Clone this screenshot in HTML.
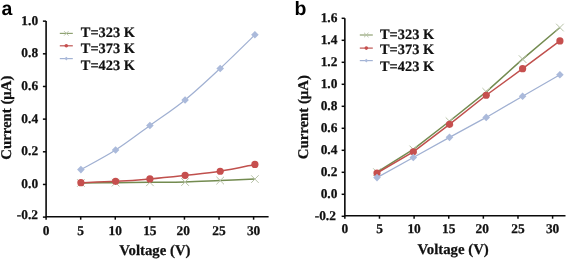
<!DOCTYPE html>
<html><head><meta charset="utf-8"><style>
html,body{margin:0;padding:0;background:#fff;}
body{width:567px;height:260px;overflow:hidden;}
svg{display:block;will-change:transform;text-rendering:geometricPrecision;filter:blur(0.3px);}
.tl{font-family:"Liberation Serif", serif;font-weight:bold;font-size:13.4px;fill:#111;stroke:#111;stroke-width:0.25px;}
.tt{font-family:"Liberation Serif", serif;font-weight:bold;font-size:14.8px;fill:#111;stroke:#111;stroke-width:0.25px;}
.lg{font-family:"Liberation Serif", serif;font-weight:bold;font-size:14.4px;fill:#111;stroke:#111;stroke-width:0.2px;}
.pl{font-family:"Liberation Sans", sans-serif;font-weight:bold;font-size:19.5px;fill:#000;}
</style></head><body>
<svg width="567" height="260" viewBox="0 0 567 260">
<rect width="567" height="260" fill="#fff"/>
<path d="M46.1,21 L46.1,216.7 L268.6,216.7" stroke="#0a0a0a" stroke-width="1.6" fill="none"/>
<path d="M42.9,21.15 L46.1,21.15" stroke="#0a0a0a" stroke-width="1.5"/>
<text x="38.1" y="24.55" text-anchor="end" class="tl">1.0</text>
<path d="M42.9,53.81 L46.1,53.81" stroke="#0a0a0a" stroke-width="1.5"/>
<text x="38.1" y="57.21" text-anchor="end" class="tl">0.8</text>
<path d="M42.9,86.47 L46.1,86.47" stroke="#0a0a0a" stroke-width="1.5"/>
<text x="38.1" y="89.87" text-anchor="end" class="tl">0.6</text>
<path d="M42.9,119.13 L46.1,119.13" stroke="#0a0a0a" stroke-width="1.5"/>
<text x="38.1" y="122.53" text-anchor="end" class="tl">0.4</text>
<path d="M42.9,151.79 L46.1,151.79" stroke="#0a0a0a" stroke-width="1.5"/>
<text x="38.1" y="155.19" text-anchor="end" class="tl">0.2</text>
<path d="M42.9,184.45 L46.1,184.45" stroke="#0a0a0a" stroke-width="1.5"/>
<text x="38.1" y="187.85" text-anchor="end" class="tl">0.0</text>
<path d="M42.9,217.11 L46.1,217.11" stroke="#0a0a0a" stroke-width="1.5"/>
<text x="38" y="219.11" text-anchor="end" class="tl">-0.2</text>
<path d="M46.1,216.7 L46.1,219.7" stroke="#0a0a0a" stroke-width="1.5"/>
<text x="46.1" y="234.5" text-anchor="middle" class="tl">0</text>
<path d="M80.69,216.7 L80.69,219.7" stroke="#0a0a0a" stroke-width="1.5"/>
<text x="80.69" y="234.5" text-anchor="middle" class="tl">5</text>
<path d="M115.27,216.7 L115.27,219.7" stroke="#0a0a0a" stroke-width="1.5"/>
<text x="115.27" y="234.5" text-anchor="middle" class="tl">10</text>
<path d="M149.85,216.7 L149.85,219.7" stroke="#0a0a0a" stroke-width="1.5"/>
<text x="149.85" y="234.5" text-anchor="middle" class="tl">15</text>
<path d="M184.44,216.7 L184.44,219.7" stroke="#0a0a0a" stroke-width="1.5"/>
<text x="183.24" y="234.5" text-anchor="middle" class="tl">20</text>
<path d="M219.02,216.7 L219.02,219.7" stroke="#0a0a0a" stroke-width="1.5"/>
<text x="219.02" y="234.5" text-anchor="middle" class="tl">25</text>
<path d="M253.61,216.7 L253.61,219.7" stroke="#0a0a0a" stroke-width="1.5"/>
<text x="253.61" y="234.5" text-anchor="middle" class="tl">30</text>
<text x="154.85" y="255.2" text-anchor="middle" class="tt">Voltage (V)</text>
<text transform="translate(10.6,117.7) rotate(-90)" text-anchor="middle" class="tt">Current (&#956;A)</text>
<text x="1.5" y="15" class="pl">a</text>
<path d="M80.9,182.99 C86.68,182.94 104.1,182.78 115.6,182.67 C127.1,182.56 138.32,182.45 149.9,182.34 C161.48,182.23 173.38,182.31 185.1,182.02 C196.82,181.72 208.57,181.04 220.2,180.55 C231.83,180.06 249.12,179.32 254.9,179.08" stroke="#738b50" stroke-width="1.5" fill="none" stroke-linejoin="round"/>
<path d="M77.1,179.19 L84.7,186.79 M77.1,186.79 L84.7,179.19" stroke="#b8c3a8" stroke-width="1" fill="none"/>
<path d="M111.8,178.87 L119.4,186.47 M111.8,186.47 L119.4,178.87" stroke="#b8c3a8" stroke-width="1" fill="none"/>
<path d="M146.1,178.54 L153.7,186.14 M146.1,186.14 L153.7,178.54" stroke="#b8c3a8" stroke-width="1" fill="none"/>
<path d="M181.3,178.22 L188.9,185.82 M181.3,185.82 L188.9,178.22" stroke="#b8c3a8" stroke-width="1" fill="none"/>
<path d="M216.4,176.75 L224,184.35 M216.4,184.35 L224,176.75" stroke="#b8c3a8" stroke-width="1" fill="none"/>
<path d="M251.1,175.28 L258.7,182.88 M251.1,182.88 L258.7,175.28" stroke="#b8c3a8" stroke-width="1" fill="none"/>
<path d="M80.9,182.67 C86.68,182.45 104.1,181.99 115.6,181.36 C127.1,180.74 138.32,179.92 149.9,178.91 C161.48,177.91 173.38,176.6 185.1,175.32 C196.82,174.05 208.57,173.07 220.2,171.24 C231.83,169.42 249.12,165.53 254.9,164.39" stroke="#c0504d" stroke-width="1.5" fill="none" stroke-linejoin="round"/>
<circle cx="80.9" cy="182.67" r="3.6" fill="#c64f4e"/>
<circle cx="115.6" cy="181.36" r="3.6" fill="#c64f4e"/>
<circle cx="149.9" cy="178.91" r="3.6" fill="#c64f4e"/>
<circle cx="185.1" cy="175.32" r="3.6" fill="#c64f4e"/>
<circle cx="220.2" cy="171.24" r="3.6" fill="#c64f4e"/>
<circle cx="254.9" cy="164.39" r="3.6" fill="#c64f4e"/>
<path d="M80.9,169.61 C86.68,166.35 104.1,157.37 115.6,150.03 C127.1,142.68 138.32,133.9 149.9,125.55 C161.48,117.2 173.38,109.45 185.1,99.93 C196.82,90.41 208.57,79.28 220.2,68.43 C231.83,57.58 249.12,40.41 254.9,34.81" stroke="#a0b0d2" stroke-width="1.2" fill="none" stroke-linejoin="round"/>
<path d="M80.9,165.81 L84.7,169.61 L80.9,173.41 L77.1,169.61 Z" fill="#abbadb"/>
<path d="M115.6,146.23 L119.4,150.03 L115.6,153.83 L111.8,150.03 Z" fill="#abbadb"/>
<path d="M149.9,121.75 L153.7,125.55 L149.9,129.35 L146.1,125.55 Z" fill="#abbadb"/>
<path d="M185.1,96.13 L188.9,99.93 L185.1,103.73 L181.3,99.93 Z" fill="#abbadb"/>
<path d="M220.2,64.63 L224,68.43 L220.2,72.23 L216.4,68.43 Z" fill="#abbadb"/>
<path d="M254.9,31.01 L258.7,34.81 L254.9,38.61 L251.1,34.81 Z" fill="#abbadb"/>
<path d="M59.8,33.4 L72.8,33.4" stroke="#8fa272" stroke-width="1.2"/>
<path d="M64.1,31.2 L68.5,35.6 M64.1,35.6 L68.5,31.2" stroke="#b8c3a8" stroke-width="1" fill="none"/>
<text x="80.8" y="36.9" class="lg">T=323 K</text>
<path d="M59.8,45.8 L72.8,45.8" stroke="#bf5552" stroke-width="1.2"/>
<circle cx="66.3" cy="45.8" r="1.8" fill="#c64f4e"/>
<text x="80.8" y="53.2" class="lg">T=373 K</text>
<path d="M59.8,58.6 L72.8,58.6" stroke="#a3b3d4" stroke-width="1.2"/>
<path d="M66.3,56.8 L68.1,58.6 L66.3,60.4 L64.5,58.6 Z" fill="#abbadb"/>
<text x="80.8" y="69.5" class="lg">T=423 K</text>
<path d="M344.85,18.3 L344.85,215.7 L565.5,215.7" stroke="#0a0a0a" stroke-width="1.6" fill="none"/>
<path d="M341.65,18.3 L344.85,18.3" stroke="#0a0a0a" stroke-width="1.5"/>
<text x="337.4" y="22" text-anchor="end" class="tl">1.6</text>
<path d="M341.65,40.3 L344.85,40.3" stroke="#0a0a0a" stroke-width="1.5"/>
<text x="337.4" y="44" text-anchor="end" class="tl">1.4</text>
<path d="M341.65,62.3 L344.85,62.3" stroke="#0a0a0a" stroke-width="1.5"/>
<text x="337.4" y="66" text-anchor="end" class="tl">1.2</text>
<path d="M341.65,84.3 L344.85,84.3" stroke="#0a0a0a" stroke-width="1.5"/>
<text x="337.4" y="88" text-anchor="end" class="tl">1.0</text>
<path d="M341.65,106.3 L344.85,106.3" stroke="#0a0a0a" stroke-width="1.5"/>
<text x="337.4" y="110" text-anchor="end" class="tl">0.8</text>
<path d="M341.65,128.3 L344.85,128.3" stroke="#0a0a0a" stroke-width="1.5"/>
<text x="337.4" y="132" text-anchor="end" class="tl">0.6</text>
<path d="M341.65,150.3 L344.85,150.3" stroke="#0a0a0a" stroke-width="1.5"/>
<text x="337.4" y="154" text-anchor="end" class="tl">0.4</text>
<path d="M341.65,172.3 L344.85,172.3" stroke="#0a0a0a" stroke-width="1.5"/>
<text x="337.4" y="176" text-anchor="end" class="tl">0.2</text>
<path d="M341.65,194.3 L344.85,194.3" stroke="#0a0a0a" stroke-width="1.5"/>
<text x="337.4" y="198" text-anchor="end" class="tl">0.0</text>
<path d="M341.65,216.3 L344.85,216.3" stroke="#0a0a0a" stroke-width="1.5"/>
<text x="335.9" y="219.5" text-anchor="end" class="tl">-0.2</text>
<path d="M344.85,215.7 L344.85,218.7" stroke="#0a0a0a" stroke-width="1.5"/>
<text x="344.85" y="232.7" text-anchor="middle" class="tl">0</text>
<path d="M379.48,215.7 L379.48,218.7" stroke="#0a0a0a" stroke-width="1.5"/>
<text x="379.48" y="232.7" text-anchor="middle" class="tl">5</text>
<path d="M414.1,215.7 L414.1,218.7" stroke="#0a0a0a" stroke-width="1.5"/>
<text x="414.1" y="232.7" text-anchor="middle" class="tl">10</text>
<path d="M448.73,215.7 L448.73,218.7" stroke="#0a0a0a" stroke-width="1.5"/>
<text x="448.73" y="232.7" text-anchor="middle" class="tl">15</text>
<path d="M483.35,215.7 L483.35,218.7" stroke="#0a0a0a" stroke-width="1.5"/>
<text x="482.15" y="232.7" text-anchor="middle" class="tl">20</text>
<path d="M517.98,215.7 L517.98,218.7" stroke="#0a0a0a" stroke-width="1.5"/>
<text x="517.98" y="232.7" text-anchor="middle" class="tl">25</text>
<path d="M552.6,215.7 L552.6,218.7" stroke="#0a0a0a" stroke-width="1.5"/>
<text x="552.6" y="232.7" text-anchor="middle" class="tl">30</text>
<text x="453.1" y="253.8" text-anchor="middle" class="tt">Voltage (V)</text>
<text transform="translate(308,117.2) rotate(-90)" text-anchor="middle" class="tt">Current (&#956;A)</text>
<text x="294.5" y="15" class="pl">b</text>
<path d="M377,172.14 L413.3,149.43 L449.5,121.24 L486.2,91.84 L522.6,59.15 L559.9,27.55" stroke="#738b50" stroke-width="1.5" fill="none" stroke-linejoin="round"/>
<path d="M373.2,168.34 L380.8,175.94 M373.2,175.94 L380.8,168.34" stroke="#b8c3a8" stroke-width="1" fill="none"/>
<path d="M409.5,145.63 L417.1,153.23 M409.5,153.23 L417.1,145.63" stroke="#b8c3a8" stroke-width="1" fill="none"/>
<path d="M445.7,117.44 L453.3,125.04 M445.7,125.04 L453.3,117.44" stroke="#b8c3a8" stroke-width="1" fill="none"/>
<path d="M482.4,88.04 L490,95.64 M482.4,95.64 L490,88.04" stroke="#b8c3a8" stroke-width="1" fill="none"/>
<path d="M518.8,55.35 L526.4,62.95 M518.8,62.95 L526.4,55.35" stroke="#b8c3a8" stroke-width="1" fill="none"/>
<path d="M556.1,23.75 L563.7,31.35 M556.1,31.35 L563.7,23.75" stroke="#b8c3a8" stroke-width="1" fill="none"/>
<path d="M377,173.02 L413.3,151.84 L449.5,124.31 L486.2,95.24 L522.6,68.69 L559.9,40.94" stroke="#c0504d" stroke-width="1.5" fill="none" stroke-linejoin="round"/>
<circle cx="377" cy="173.02" r="3.6" fill="#c64f4e"/>
<circle cx="413.3" cy="151.84" r="3.6" fill="#c64f4e"/>
<circle cx="449.5" cy="124.31" r="3.6" fill="#c64f4e"/>
<circle cx="486.2" cy="95.24" r="3.6" fill="#c64f4e"/>
<circle cx="522.6" cy="68.69" r="3.6" fill="#c64f4e"/>
<circle cx="559.9" cy="40.94" r="3.6" fill="#c64f4e"/>
<path d="M377,177.62 L413.3,157.55 L449.5,137.36 L486.2,117.4 L522.6,96.23 L559.9,74.73" stroke="#a0b0d2" stroke-width="1.2" fill="none" stroke-linejoin="round"/>
<path d="M377,173.82 L380.8,177.62 L377,181.42 L373.2,177.62 Z" fill="#abbadb"/>
<path d="M413.3,153.75 L417.1,157.55 L413.3,161.35 L409.5,157.55 Z" fill="#abbadb"/>
<path d="M449.5,133.56 L453.3,137.36 L449.5,141.16 L445.7,137.36 Z" fill="#abbadb"/>
<path d="M486.2,113.6 L490,117.4 L486.2,121.2 L482.4,117.4 Z" fill="#abbadb"/>
<path d="M522.6,92.43 L526.4,96.23 L522.6,100.03 L518.8,96.23 Z" fill="#abbadb"/>
<path d="M559.9,70.93 L563.7,74.73 L559.9,78.53 L556.1,74.73 Z" fill="#abbadb"/>
<path d="M359.8,35 L372.8,35" stroke="#8fa272" stroke-width="1.2"/>
<path d="M364.1,32.8 L368.5,37.2 M364.1,37.2 L368.5,32.8" stroke="#b8c3a8" stroke-width="1" fill="none"/>
<text x="380" y="38.5" class="lg">T=323 K</text>
<path d="M359.8,48.1 L372.8,48.1" stroke="#bf5552" stroke-width="1.2"/>
<circle cx="366.3" cy="48.1" r="1.8" fill="#c64f4e"/>
<text x="380" y="54.3" class="lg">T=373 K</text>
<path d="M359.8,60.6 L372.8,60.6" stroke="#a3b3d4" stroke-width="1.2"/>
<path d="M366.3,58.8 L368.1,60.6 L366.3,62.4 L364.5,60.6 Z" fill="#abbadb"/>
<text x="380" y="70.8" class="lg">T=423 K</text>
</svg>
</body></html>
